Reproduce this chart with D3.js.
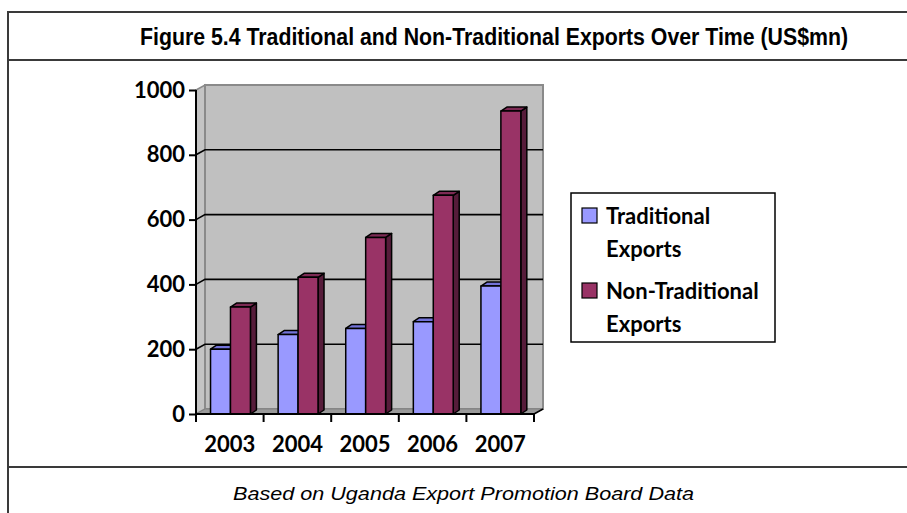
<!DOCTYPE html>
<html>
<head>
<meta charset="utf-8">
<script src="https://cdn.jsdelivr.net/npm/d3@7"></script>
<style>
  html, body { margin: 0; padding: 0; background: #ffffff; }
  svg { display: block; }
</style>
</head>
<body>
<svg id="chart" width="907" height="513"></svg>
<script>
// Export values, US$ millions
const years = ["2003", "2004", "2005", "2006", "2007"];
const seriesNames = ["Traditional Exports", "Non-Traditional Exports"];
const traditional = [200, 245, 264, 285, 395];
const nonTraditional = [330, 422, 545, 675, 935];
const yTicks = [0, 200, 400, 600, 800, 1000];
const titleText = "Figure 5.4 Traditional and Non-Traditional Exports Over Time (US$mn)";
const sourceText = "Based on Uganda Export Promotion Board Data";

const svg = d3.select("#chart");

// ---- outer frame ----
const frame = svg.append("g").attr("fill", "none").attr("stroke", "#3a3a3a").attr("stroke-width", 2);
frame.append("rect").attr("x", 8).attr("y", 12).attr("width", 920).attr("height", 520);
frame.append("line").attr("x1", 8).attr("x2", 907).attr("y1", 60).attr("y2", 60);
frame.append("line").attr("x1", 8).attr("x2", 907).attr("y1", 467).attr("y2", 467);

svg.append("text")
  .attr("x", 140).attr("y", 45)
  .attr("font-family", "'Liberation Sans', Arial, sans-serif")
  .attr("font-weight", "bold").attr("font-size", 23)
  .attr("textLength", 708).attr("lengthAdjust", "spacingAndGlyphs")
  .attr("fill", "#000")
  .text(titleText);

svg.append("text")
  .attr("x", 233).attr("y", 500)
  .attr("font-family", "'Liberation Sans', Arial, sans-serif")
  .attr("font-style", "italic").attr("font-size", 19)
  .attr("textLength", 461).attr("lengthAdjust", "spacingAndGlyphs")
  .attr("fill", "#000")
  .text(sourceText);

// ---- 3D column plot ----
const plotLeft = 196, plotRight = 534, plotTop = 90, plotBottom = 414;
const wallDx = 9, wallDy = -5;     // depth of the back wall
const barDx = 6, barDy = -4;       // depth of each column

const x = d3.scaleBand().domain(years).range([plotLeft, plotRight]).paddingInner(0).paddingOuter(0);
const xs = d3.scaleBand().domain(seriesNames)
  .range([x.bandwidth() * 0.215, x.bandwidth() * 0.805]).paddingInner(0);
const y = d3.scaleLinear().domain([0, 1000]).range([plotBottom, plotTop]);

const pts = p => p.map(q => q.join(",")).join(" ");
const plot = svg.append("g");

// side wall, back wall, floor
plot.append("polygon")
  .attr("points", pts([[plotLeft, y(0)], [plotLeft, y(1000)], [plotLeft + wallDx, y(1000) + wallDy], [plotLeft + wallDx, y(0) + wallDy]]))
  .attr("fill", "#c4c4c4").attr("stroke", "#8a8a8a").attr("stroke-width", 1.5);
plot.append("polygon")
  .attr("points", pts([[plotLeft + wallDx, y(0) + wallDy], [plotLeft + wallDx, y(1000) + wallDy],
                       [plotRight + wallDx, y(1000) + wallDy], [plotRight + wallDx, y(0) + wallDy]]))
  .attr("fill", "#c0c0c0").attr("stroke", "#8a8a8a").attr("stroke-width", 2);
plot.append("polygon")
  .attr("points", pts([[plotLeft, y(0)], [plotLeft + wallDx, y(0) + wallDy], [plotRight + wallDx, y(0) + wallDy], [plotRight, y(0)]]))
  .attr("fill", "#9a9a9a").attr("stroke", "#808080").attr("stroke-width", 1);

// gridlines across the side wall and back wall
plot.selectAll(".grid").data(yTicks.filter(t => t > 0 && t < 1000)).enter()
  .append("polyline")
  .attr("points", d => pts([[plotLeft, y(d)], [plotLeft + wallDx, y(d) + wallDy], [plotRight + wallDx, y(d) + wallDy]]))
  .attr("fill", "none").attr("stroke", "#000").attr("stroke-width", 1.6);

// columns
const faces = {
  "Traditional Exports": { front: "#9999ff", top: "#7373d9", side: "#5252a8" },
  "Non-Traditional Exports": { front: "#993366", top: "#7d2a54", side: "#561c3a" }
};
const rows = [];
years.forEach((yr, i) => {
  rows.push({ year: yr, series: seriesNames[0], value: traditional[i] });
  rows.push({ year: yr, series: seriesNames[1], value: nonTraditional[i] });
});

const bar = plot.selectAll(".bar").data(rows).enter().append("g")
  .attr("stroke", "#000").attr("stroke-width", 1.5).attr("stroke-linejoin", "round");
bar.each(function(d) {
  const g = d3.select(this);
  const x0 = x(d.year) + xs(d.series), x1 = x0 + xs.bandwidth();
  const y0 = y(0), y1 = y(d.value);
  const c = faces[d.series];
  g.append("polygon")
    .attr("points", pts([[x1, y0], [x1, y1], [x1 + barDx, y1 + barDy], [x1 + barDx, y0 + barDy]]))
    .attr("fill", c.side);
  g.append("polygon")
    .attr("points", pts([[x0, y1], [x0 + barDx, y1 + barDy], [x1 + barDx, y1 + barDy], [x1, y1]]))
    .attr("fill", c.top);
  g.append("rect")
    .attr("x", x0).attr("y", y1).attr("width", x1 - x0).attr("height", y0 - y1)
    .attr("fill", c.front);
});

// axes
const axisFont = "Lato, 'Open Sans', sans-serif";
const yAxis = svg.append("g").attr("transform", `translate(${plotLeft},0)`)
  .call(d3.axisLeft(y).tickValues(yTicks).tickSize(7).tickPadding(4).tickFormat(d3.format("d")));
yAxis.select(".domain").attr("stroke", "#000").attr("stroke-width", 2).attr("d", `M0,${plotTop}V${plotBottom + 7}`);
yAxis.selectAll(".tick line").attr("stroke", "#000").attr("stroke-width", 2);
yAxis.selectAll("text").attr("font-family", axisFont).attr("font-weight", "bold")
  .attr("font-size", 22).attr("fill", "#000");

const xAxis = svg.append("g").attr("transform", `translate(0,${plotBottom})`);
xAxis.append("line").attr("x1", plotLeft).attr("x2", plotRight).attr("y1", 0).attr("y2", 0)
  .attr("stroke", "#000").attr("stroke-width", 2);
xAxis.append("line").attr("x1", plotRight).attr("x2", plotRight + wallDx).attr("y1", 0).attr("y2", wallDy)
  .attr("stroke", "#000").attr("stroke-width", 1.5);
xAxis.selectAll(".sep").data(years.map(yv => x(yv)).concat([plotRight])).enter().append("line")
  .attr("x1", d => d).attr("x2", d => d).attr("y1", 0).attr("y2", 8)
  .attr("stroke", "#000").attr("stroke-width", 2);
xAxis.selectAll(".lab").data(years).enter().append("text")
  .attr("x", d => x(d) + x.bandwidth() / 2).attr("y", 38)
  .attr("text-anchor", "middle")
  .attr("font-family", axisFont).attr("font-weight", "bold").attr("font-size", 22).attr("fill", "#000")
  .text(d => d);

// legend
const legend = svg.append("g");
legend.append("rect").attr("x", 571).attr("y", 193).attr("width", 204).attr("height", 149)
  .attr("fill", "#fff").attr("stroke", "#000").attr("stroke-width", 1.5);
const legendLines = [["Traditional", "Exports"], ["Non-Traditional", "Exports"]];
seriesNames.forEach((s, i) => {
  const gy = 208 + i * 75;
  legend.append("rect").attr("x", 582).attr("y", gy).attr("width", 15).attr("height", 15)
    .attr("fill", faces[s].front).attr("stroke", "#000").attr("stroke-width", 1.2);
  legendLines[i].forEach((line, j) => {
    legend.append("text").attr("x", 606).attr("y", gy + 16 + j * 33)
      .attr("font-family", axisFont).attr("font-weight", "bold").attr("font-size", 22).attr("fill", "#000")
      .text(line);
  });
});
</script>
</body>
</html>
